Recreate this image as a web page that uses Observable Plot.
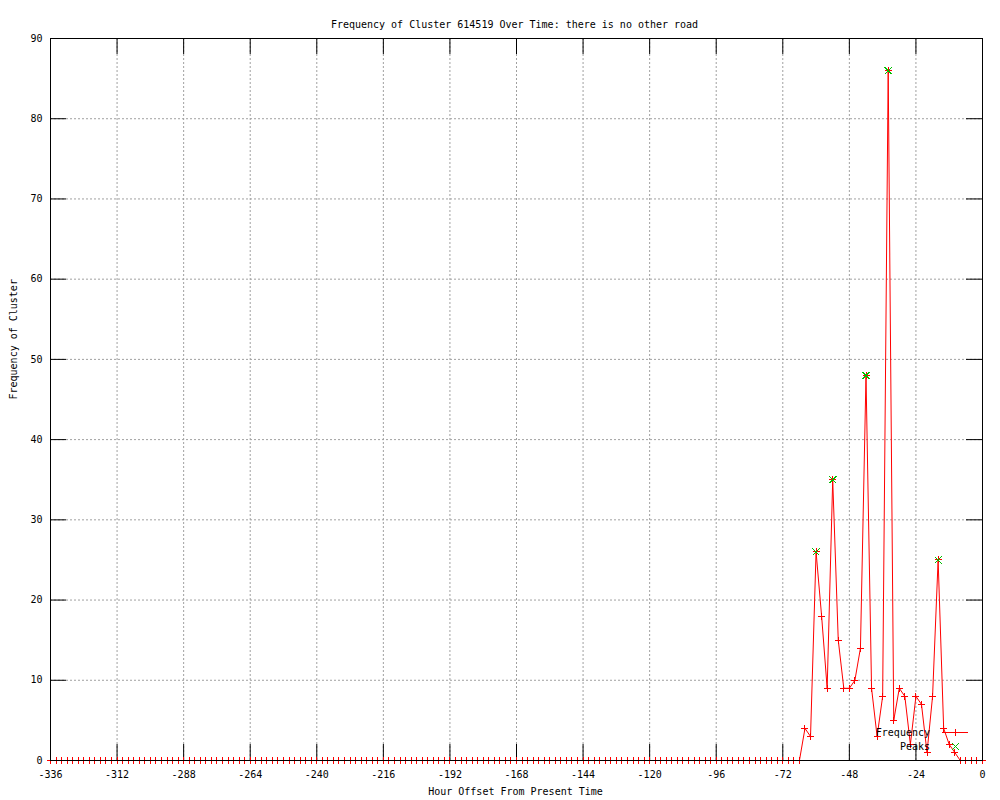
<!DOCTYPE html>
<html><head><meta charset="utf-8">
<script src="https://cdn.jsdelivr.net/npm/d3@7"></script>
<script src="https://cdn.jsdelivr.net/npm/@observablehq/plot@0.6"></script>
<style>
body{margin:0;background:#fff;}
#wrap{position:relative;width:1000px;height:800px;}
#legend{position:absolute;left:0;top:0;pointer-events:none;}
</style></head><body><div id="wrap"></div>
<script>
const title = "Frequency of Cluster 614519 Over Time: there is no other road";
const xLabel = "Hour Offset From Present Time";
const yLabel = "Frequency of Cluster";
const seriesNames = ["Frequency", "Peaks"];
const xTicks = [-336,-312,-288,-264,-240,-216,-192,-168,-144,-120,-96,-72,-48,-24,0];
const yTicks = [0,10,20,30,40,50,60,70,80,90];
const hours = d3.range(-336, 1, 2);
const frequency = [
  0,0,0,0,0,0,0,0,0,0,0,0,0,0,0,0,0,
  0,0,0,0,0,0,0,0,0,0,0,0,0,0,0,0,0,
  0,0,0,0,0,0,0,0,0,0,0,0,0,0,0,0,0,
  0,0,0,0,0,0,0,0,0,0,0,0,0,0,0,0,0,
  0,0,0,0,0,0,0,0,0,0,0,0,0,0,0,0,0,
  0,0,0,0,0,0,0,0,0,0,0,0,0,0,0,0,0,
  0,0,0,0,0,0,0,0,0,0,0,0,0,0,0,0,0,
  0,0,0,0,0,0,0,0,0,0,0,0,0,0,0,0,0,
  4,3,26,18,9,35,15,9,9,10,14,48,9,3,8,86,5,9,8,2,8,7,1,8,25,4,2,1,0,0,0,0,0
];
const peakHours = [-60,-54,-42,-34,-16];
const peakValues = [26,35,48,86,25];

const data = hours.map((h, i) => ({h, v: frequency[i]}));
const peaks = peakHours.map((h, i) => ({h, v: peakValues[i]}));

const plusSym = {draw(ctx, size){const a = Math.sqrt(size/Math.PI); ctx.moveTo(-a,0); ctx.lineTo(a,0); ctx.moveTo(0,-a); ctx.lineTo(0,a);}};
const timesSym = {draw(ctx, size){const a = Math.sqrt(size/Math.PI); ctx.moveTo(-a,-a); ctx.lineTo(a,a); ctx.moveTo(-a,a); ctx.lineTo(a,-a);}};

const W = 1000, H = 800, mL = 50, mR = 18, mT = 38, mB = 40;
const fw = W - mL - mR, fh = H - mT - mB, tick = 16;
const RED = "#ff0000", GREEN = "#00c000", GRID = "#a0a0a0";

const chart = Plot.plot({
  width: W, height: H,
  marginLeft: mL, marginRight: mR, marginTop: mT, marginBottom: mB,
  style: {fontFamily: "DejaVu Sans Mono", fontSize: "10px", background: "white", color: "black"},
  x: {domain: [-336, 0], label: null},
  y: {domain: [0, 90], label: null},
  marks: [
    Plot.ruleX(xTicks, {stroke: GRID, strokeDasharray: "2,2"}),
    Plot.ruleY(yTicks, {stroke: GRID, strokeDasharray: "2,2"}),
    Plot.ruleX(xTicks, {stroke: "black", insetTop: fh - tick}),
    Plot.ruleX(xTicks, {stroke: "black", insetBottom: fh - tick}),
    Plot.ruleY(yTicks, {stroke: "black", insetRight: fw - tick}),
    Plot.ruleY(yTicks, {stroke: "black", insetLeft: fw - tick}),
    Plot.axisX({ticks: xTicks, tickSize: 0, tickPadding: 10, tickFormat: d => String(d), label: null, fill: "black"}),
    Plot.axisY({ticks: yTicks, tickSize: 0, tickPadding: 8, tickFormat: d => String(d), label: null, fill: "black"}),
    Plot.line(data, {x: "h", y: "v", stroke: RED, strokeWidth: 1}),
    Plot.dot(data, {x: "h", y: "v", symbol: plusSym, r: 3.5, stroke: RED, fill: "none", strokeWidth: 1, shapeRendering: "crispEdges"}),
    Plot.dot(peaks, {x: "h", y: "v", symbol: timesSym, r: 3.5, stroke: GREEN, fill: "none", strokeWidth: 1, shapeRendering: "crispEdges"}),
    Plot.frame({stroke: "black"}),
    Plot.text([title], {frameAnchor: "top", dy: -18, dx: -2, fill: "black"}),
    Plot.text([xLabel], {frameAnchor: "bottom", dy: 34, dx: -1, fill: "black"}),
    Plot.text([yLabel], {frameAnchor: "left", dx: -37, rotate: -90, fill: "black"})
  ]
});
const wrap = document.getElementById("wrap");
wrap.appendChild(chart);

// legend overlay (key at bottom right)
const ns = "http://www.w3.org/2000/svg";
const lg = document.createElementNS(ns, "svg");
lg.setAttribute("id", "legend");
lg.setAttribute("width", W); lg.setAttribute("height", H);
lg.style.fontFamily = "DejaVu Sans Mono"; lg.style.fontSize = "10px";
const rows = [
  {name: seriesNames[0], y: 733, color: RED, sym: "plus", line: true},
  {name: seriesNames[1], y: 746.5, color: GREEN, sym: "times", line: false}
];
const textRight = 930, sx1 = 942, sx2 = 968, sc = 955, a = 3.5;
for (const r of rows) {
  const t = document.createElementNS(ns, "text");
  t.setAttribute("x", textRight); t.setAttribute("y", r.y);
  t.setAttribute("text-anchor", "end"); t.setAttribute("dy", "0.32em");
  t.setAttribute("fill", "black"); t.textContent = r.name;
  lg.appendChild(t);
  const p = document.createElementNS(ns, "path");
  const yy = Math.round(r.y - 1) + 0.5, cx = sc + 0.5;
  let d = "";
  if (r.line) d += `M${sx1},${yy}H${sx2}`;
  if (r.sym === "plus") d += `M${cx-a},${yy}H${cx+a}M${cx},${yy-a}V${yy+a}`;
  else d += `M${cx-a},${yy-a}L${cx+a},${yy+a}M${cx-a},${yy+a}L${cx+a},${yy-a}`;
  p.setAttribute("d", d); p.setAttribute("stroke", r.color); p.setAttribute("fill", "none");
  p.setAttribute("shape-rendering", "crispEdges");
  lg.appendChild(p);
}
wrap.appendChild(lg);
</script></body></html>
